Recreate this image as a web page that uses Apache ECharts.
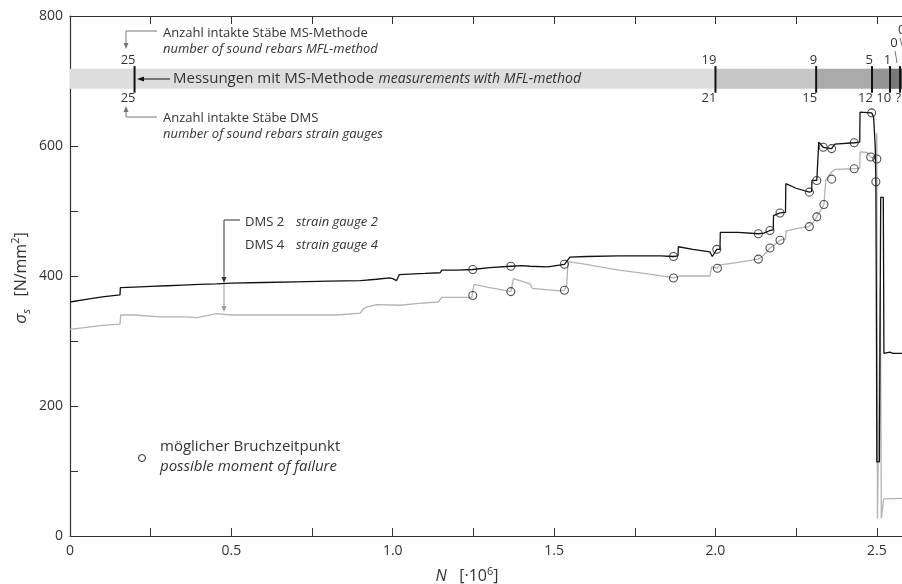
<!DOCTYPE html>
<html>
<head>
<meta charset="utf-8">
<script src="https://cdn.jsdelivr.net/npm/echarts@6/dist/echarts.min.js"></script>
<style>
html, body { margin: 0; padding: 0; background: #fff; }
#chart { width: 902px; height: 584px; }
</style>
</head>
<body>
<div id="chart"></div>
<script>
var X_MAX = 2.578;

// DMS 2 (black)
var dms2 = [
    [0, 360], [0.05, 364], [0.1, 368], [0.155, 371], [0.156, 382], [0.2, 383], [0.25, 384],
    [0.3, 385], [0.35, 386], [0.4, 387], [0.455, 388], [0.5, 389], [0.6, 390], [0.7, 391],
    [0.8, 392], [0.9, 393], [0.95, 395], [0.99, 397], [1.0, 396], [1.012, 393], [1.02, 402],
    [1.05, 403], [1.1, 404], [1.147, 405], [1.152, 409], [1.2, 409], [1.248, 410], [1.3, 413],
    [1.366, 415], [1.4, 416], [1.425, 415], [1.427, 413], [1.48, 414], [1.532, 418], [1.549, 429],
    [1.6, 430], [1.7, 431], [1.797, 431], [1.83, 431], [1.87, 430], [1.884, 431], [1.885, 445],
    [1.93, 441], [1.983, 437], [1.99, 430], [2.004, 441], [2.014, 441], [2.015, 467], [2.07, 467],
    [2.133, 465], [2.15, 466], [2.169, 470], [2.179, 471], [2.18, 493], [2.2, 497], [2.217, 498],
    [2.218, 542], [2.25, 535], [2.291, 529], [2.298, 530], [2.299, 547], [2.314, 547], [2.319, 548],
    [2.32, 606], [2.334, 598], [2.36, 596], [2.37, 603], [2.43, 605], [2.447, 606], [2.448, 652],
    [2.484, 651], [2.49, 645], [2.495, 600], [2.497, 545], [2.499, 300], [2.5, 114], [2.508, 114],
    [2.512, 521], [2.52, 521], [2.522, 281], [2.54, 283], [2.55, 281], [2.578, 281]
];

// DMS 4 (grey)
var dms4 = [
    [0, 318], [0.05, 321], [0.1, 324], [0.155, 326], [0.157, 340], [0.2, 340], [0.279, 337],
    [0.35, 337], [0.393, 336], [0.455, 342], [0.5, 340], [0.589, 340], [0.7, 340], [0.826, 340],
    [0.899, 343], [0.91, 350], [0.919, 352], [0.95, 356], [1.023, 355], [1.08, 358], [1.141, 360],
    [1.152, 367], [1.245, 367], [1.248, 370], [1.252, 387], [1.3, 382], [1.348, 378], [1.366, 376],
    [1.374, 396], [1.425, 388], [1.433, 381], [1.518, 377], [1.532, 378], [1.539, 386], [1.543, 422],
    [1.549, 424], [1.6, 418], [1.642, 414], [1.7, 409], [1.797, 403], [1.87, 397], [1.89, 400],
    [1.983, 400], [1.988, 414], [2.006, 412], [2.014, 417], [2.07, 421], [2.133, 426], [2.145, 430],
    [2.169, 443], [2.18, 447], [2.2, 455], [2.217, 457], [2.219, 469], [2.25, 473], [2.288, 476],
    [2.291, 476], [2.3, 480], [2.314, 491], [2.325, 500], [2.336, 510], [2.342, 548], [2.36, 560],
    [2.37, 564], [2.43, 565], [2.447, 566], [2.448, 591], [2.47, 590], [2.481, 583], [2.49, 582],
    [2.498, 580], [2.5, 620], [2.502, 27], [2.508, 27], [2.511, 383], [2.514, 27], [2.52, 30],
    [2.521, 57], [2.578, 58]
];

// moments of possible failure
var failDms2 = [
    [1.248, 410], [1.366, 415], [1.532, 418], [1.870, 430], [2.004, 441], [2.133, 465], [2.169, 470],
    [2.2, 497], [2.291, 529], [2.314, 547], [2.334, 598], [2.360, 596], [2.430, 605], [2.484, 651],
    [2.497, 545]
];
var failDms4 = [
    [1.248, 370], [1.366, 376], [1.532, 378], [1.870, 397], [2.006, 412], [2.133, 426], [2.169, 443],
    [2.2, 455], [2.291, 476], [2.314, 491], [2.336, 510], [2.360, 549], [2.430, 565], [2.481, 583],
    [2.5, 580]
];

// MS band
var bandStarts = [0, 2.0, 2.312, 2.485, 2.541, 2.572];
var bandY = [688, 719];
var markerX = [0.2, 2.0, 2.312, 2.485, 2.541, 2.572];
var markerY = [682, 723];
var msCounts = ['25', '19', '9', '5', '1', '0'];
var dmsCounts = ['25', '21', '15', '12', '10', '?'];

var bandShades = ['#dcdddf', '#c5c6c8', '#a9aaac', '#939496', '#77787a', '#5a5a5c'];
var FONT = '"Open Sans", "Noto Sans", sans-serif';
var txt = '#333';
var lead = '#777';

var chart = echarts.init(document.getElementById('chart'));

function renderBand(params, api) {
    var p0 = api.coord([api.value(0), bandY[1]]);
    var p1 = api.coord([api.value(1), bandY[0]]);
    return {
        type: 'rect',
        shape: {x: p0[0], y: p0[1], width: p1[0] - p0[0], height: p1[1] - p0[1]},
        style: {fill: bandShades[params.dataIndex]}
    };
}

function renderMarker(params, api) {
    var i = params.dataIndex;
    var x = api.value(0);
    var top = api.coord([x, markerY[1]]);
    var bot = api.coord([x, markerY[0]]);
    var raised = i === markerX.length - 1;
    var kids = [{
        type: 'line',
        shape: {x1: top[0], y1: top[1], x2: bot[0], y2: bot[1]},
        style: {stroke: '#111', lineWidth: 2}
    }];
    kids.push({
        type: 'text',
        x: raised ? top[0] - 6 : top[0] + 1,
        y: raised ? top[1] - 16 : top[1] + 1,
        style: {text: msCounts[i], align: raised ? 'center' : 'right', verticalAlign: 'bottom',
                font: '13px ' + FONT, fill: txt}
    });
    if (raised) {
        kids.push({type: 'line', shape: {x1: top[0] - 5, y1: top[1] - 15, x2: top[0] - 3, y2: top[1] - 3},
                   style: {stroke: lead, lineWidth: 1}});
    }
    kids.push({
        type: 'text',
        x: bot[0] + 1,
        y: bot[1] - 1,
        style: {text: dmsCounts[i], align: 'right', verticalAlign: 'top', font: '13px ' + FONT, fill: txt}
    });
    return {type: 'group', children: kids};
}

function T(x, y, s, italic, size, align) {
    return {type: 'text', x: x, y: y, z: 100, silent: true,
        style: {text: s, font: (italic ? 'italic ' : '') + (size || 13) + 'px ' + FONT, fill: txt,
                verticalAlign: 'middle', align: align || 'left'}};
}
function L(points, color) {
    return {type: 'polyline', z: 100, silent: true, shape: {points: points},
        style: {stroke: color, lineWidth: 1, fill: null}};
}
function A(x, y, dir, color) {
    var p;
    if (dir === 'down') p = [[x, y], [x - 2.5, y - 6], [x + 2.5, y - 6]];
    if (dir === 'up') p = [[x, y], [x - 2.5, y + 6], [x + 2.5, y + 6]];
    if (dir === 'left') p = [[x, y], [x + 7, y - 2.5], [x + 7, y + 2.5]];
    return {type: 'polygon', z: 100, silent: true, shape: {points: p}, style: {fill: color}};
}

var notes = [
    T(163, 33, 'Anzahl intakte Stäbe MS-Methode'),
    T(163, 49, 'number of sound rebars MFL-method', true),
    L([[157, 31], [126, 31], [126, 43]], lead), A(126, 49, 'down', lead),
    L([[170, 79], [142, 79]], '#111'), A(137, 79, 'left', '#111'),
    T(173, 79, 'Messungen mit MS-Methode', false, 15),
    T(581, 79, 'measurements with MFL-method', true, 14, 'right'),
    A(126, 106, 'up', lead), L([[126, 111], [126, 117], [157, 117]], lead),
    T(163, 118, 'Anzahl intakte Stäbe DMS'),
    T(163, 134, 'number of sound rebars strain gauges', true),
    L([[240, 220], [224, 220], [224, 277]], '#333'), A(224, 283, 'down', '#333'),
    L([[224, 284], [224, 306]], '#999'), A(224, 312, 'down', '#999'),
    T(245, 222, 'DMS 2'), T(296, 222, 'strain gauge 2', true),
    T(245, 245, 'DMS 4'), T(296, 245, 'strain gauge 4', true),
    {type: 'circle', z: 100, silent: true, shape: {cx: 142, cy: 458, r: 3.5}, style: {fill: null, stroke: '#222', lineWidth: 1}},
    T(160, 447, 'möglicher Bruchzeitpunkt', false, 15),
    T(160, 467, 'possible moment of failure', true, 15),
    T(898, 30, '0'), L([[900, 38], [906, 60]], lead),
    {type: 'text', x: 21, y: 278, z: 100, rotation: Math.PI / 2, silent: true,
     style: {text: '{i|σ}{s|s}   [N/mm{p|2}]', font: '16px ' + FONT, fill: txt, align: 'center', verticalAlign: 'middle',
             rich: {i: {font: 'italic 17px ' + FONT, fill: txt, lineHeight: 22, verticalAlign: 'middle'},
                    s: {font: 'italic 11px ' + FONT, fill: txt, lineHeight: 22, verticalAlign: 'bottom'},
                    p: {font: '11px ' + FONT, fill: txt, lineHeight: 22, verticalAlign: 'top'}}}},
    {type: 'text', x: 467, y: 576, z: 100, silent: true,
     style: {text: '{i|N}   [·10{p|6}]', font: '16px ' + FONT, fill: txt, align: 'center', verticalAlign: 'middle',
             rich: {i: {font: 'italic 16px ' + FONT, fill: txt, lineHeight: 20, verticalAlign: 'middle'},
                    p: {font: '11px ' + FONT, fill: txt, lineHeight: 20, verticalAlign: 'top'}}}}
];

var axisCommon = {
    type: 'value',
    min: 0,
    max: X_MAX,
    interval: 0.25,
    splitLine: {show: false},
    axisLine: {show: true, lineStyle: {color: '#333', width: 1.2}},
    axisTick: {show: true, inside: true, length: 8, lineStyle: {color: '#333', width: 1}}
};

chart.setOption({
    animation: false,
    grid: {left: 70, right: 0, top: 16, bottom: 48},
    xAxis: [
        Object.assign({}, axisCommon, {
            position: 'bottom',
            axisLabel: {
                color: txt, fontSize: 14, fontFamily: FONT, margin: 8, showMaxLabel: false,
                formatter: function(v) {
                    if (Math.abs(v * 2 - Math.round(v * 2)) > 1e-6) return '';
                    return v === 0 ? '0' : v.toFixed(1);
                }
            }
        }),
        Object.assign({}, axisCommon, {position: 'top', axisLabel: {show: false}})
    ],
    yAxis: {
        type: 'value',
        min: 0,
        max: 800,
        interval: 100,
        splitLine: {show: false},
        axisLine: {show: true, lineStyle: {color: '#333', width: 1.2}},
        axisTick: {show: true, inside: true, length: 8, lineStyle: {color: '#333', width: 1}},
        axisLabel: {
            color: txt, fontSize: 14, fontFamily: FONT, margin: 7,
            formatter: function(v) { return v % 200 === 0 ? String(v) : ''; }
        }
    },
    graphic: {elements: notes},
    series: [
        {
            type: 'custom',
            renderItem: renderBand,
            data: bandStarts.map(function(s, i) {
                return [s, i < bandStarts.length - 1 ? bandStarts[i + 1] : X_MAX];
            }),
            z: 1
        },
        {
            type: 'custom',
            renderItem: renderMarker,
            data: markerX.map(function(x, i) { return [x, i]; }),
            z: 3
        },
        {
            name: 'DMS 4',
            type: 'line',
            data: dms4,
            showSymbol: false,
            lineStyle: {color: '#b3b3b3', width: 1.3},
            z: 4
        },
        {
            name: 'DMS 2',
            type: 'line',
            data: dms2,
            showSymbol: false,
            lineStyle: {color: '#111', width: 1.3},
            z: 5
        },
        {
            type: 'scatter',
            data: failDms4.concat(failDms2),
            symbol: 'circle',
            symbolSize: 8,
            itemStyle: {color: 'rgba(255,255,255,0)', borderColor: '#222', borderWidth: 1.1},
            z: 6
        }
    ]
});
</script>
</body>
</html>
